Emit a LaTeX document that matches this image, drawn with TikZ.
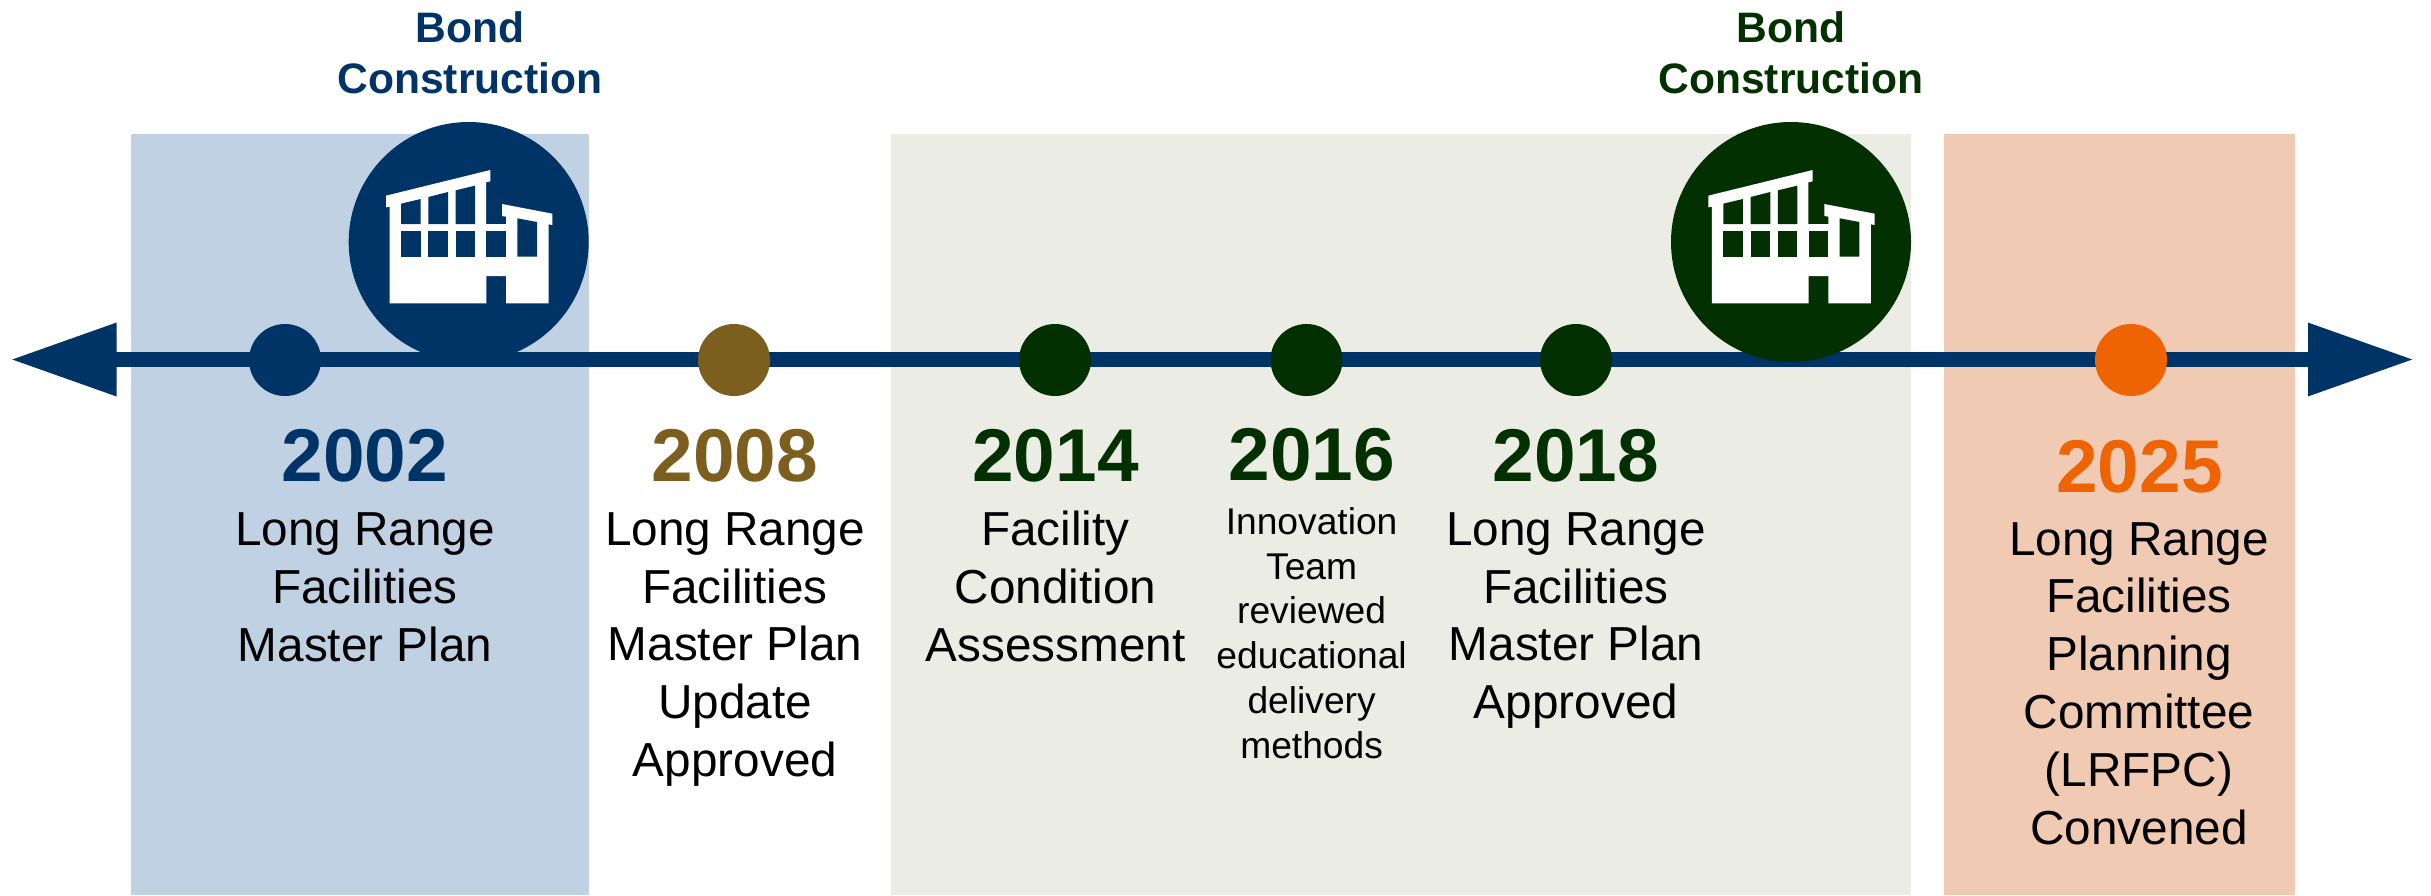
\documentclass[tikz,border=0pt]{standalone}
\usepackage{fontspec}
\setmainfont{Liberation Sans}
\usetikzlibrary{arrows.meta}
\definecolor{navy}{HTML}{003366}
\definecolor{paleblue}{HTML}{BFD1E3}
\definecolor{forest}{HTML}{033000}
\definecolor{palegreen}{HTML}{EBECE4}
\definecolor{paleorange}{HTML}{F0CAB3}
\definecolor{brightorange}{HTML}{EE6402}
\definecolor{bronze}{HTML}{7C5F1F}
\tikzset{
  band/.style={inner sep=0pt, outer sep=0pt, anchor=north west},
  dot/.style={circle, inner sep=0pt, outer sep=0pt, minimum size=36pt, fill=#1},
  bigdot/.style={circle, inner sep=0pt, outer sep=0pt, minimum size=120pt, fill=#1},
  yearlabel/.style={anchor=base, inner sep=0pt, text=#1, font=\fontsize{37.4}{41}\selectfont\bfseries},
  bodylabel/.style={anchor=base, inner sep=0pt, align=center, text=black, font=\fontsize{23.85}{28.9}\selectfont},
  smalllabel/.style={anchor=base, inner sep=0pt, align=center, text=black, font=\fontsize{18.6}{22.35}\selectfont},
  bondlabel/.style={anchor=base, inner sep=0pt, align=center, text=#1, font=\fontsize{21.3}{25.5}\selectfont\bfseries},
  timeline/.style={line width=7.8pt, draw=navy, {Triangle[length=53pt,width=34.6pt]}-{Triangle[length=53pt,width=34.6pt]}},
}
\newcommand{\drawbuilding}[3]{%
\begin{scope}[shift={(#1,#2)},scale=1/3]
  \fill[white] (168,287) -- (481,210) -- (481,244) -- (468,247) -- (468,372) -- (528,372) -- (528,350) -- (516,348) -- (516,312) -- (667,341) -- (667,375) -- (656,373) -- (656,610) -- (528,610) -- (528,528) -- (469,528) -- (469,610) -- (179,610) -- (179,320) -- (168,322) -- cycle;
  \fill[#3] (213,311) -- (272,297) -- (272,372) -- (213,372) -- cycle;
  \fill[#3] (295,291) -- (354,276) -- (354,372) -- (295,372) -- cycle;
  \fill[#3] (377,271) -- (435,257) -- (435,372) -- (377,372) -- cycle;
  \fill[#3] (213,394) rectangle (272,470);
  \fill[#3] (295,394) rectangle (354,470);
  \fill[#3] (377,394) rectangle (435,470);
  \fill[#3] (469,394) rectangle (528,470);
  \fill[#3] (562,355) -- (621,366) -- (621,470) -- (562,470) -- cycle;
\end{scope}}
\begin{document}
\begin{tikzpicture}[x=0.5pt,y=-0.5pt]
\useasboundingbox (0,0) rectangle (2431,895);
% bands
\fill[paleblue] (130.5,134) rectangle (588.7,895);
\fill[palegreen] (891,134) rectangle (1910.5,895);
\fill[paleorange] (1944,134) rectangle (2295,895);
% timeline
\coordinate (tipL) at (10.5,359.5);
\coordinate (tipR) at (2414,359.5);
\draw[timeline] (tipL) -- (tipR);
% dots
\node[dot=navy] (d02) at (285,360) {};
\node[dot=bronze] (d08) at (734,360) {};
\node[dot=forest] (d14) at (1055,360) {};
\node[dot=forest] (d16) at (1306.5,360) {};
\node[dot=forest] (d18) at (1576,360) {};
\node[dot=brightorange] (d25) at (2131,360) {};
% bond circles
\node[bigdot=navy] (b1) at (468.7,242) {};
\node[bigdot=forest] (b2) at (1791,242) {};
\drawbuilding{330}{100}{navy}
\drawbuilding{1652.3}{100}{forest}
% bond labels
\node[bondlabel=navy] (bl1) at (470,93) {Bond\\Construction};
\node[bondlabel=forest] (bl2) at (1791,93) {Bond\\Construction};
% years
\node[yearlabel=navy] (y02) at (365,481) {2002};
\node[yearlabel=bronze] (y08) at (735,481) {2008};
\node[yearlabel=forest] (y14) at (1055.5,481) {2014};
\node[yearlabel=forest] (y16) at (1311.6,480) {2016};
\node[yearlabel=forest] (y18) at (1576,481) {2018};
\node[yearlabel=brightorange] (y25) at (2139.5,492) {2025};
% descriptions
\node[bodylabel] (t02) at (365,661) {Long Range\\Facilities\\Master Plan};
\node[bodylabel] (t08) at (735,776.5) {Long Range\\Facilities\\Master Plan\\Update\\Approved};
\node[bodylabel] (t14) at (1055.5,661) {Facility\\Condition\\Assessment};
\node[smalllabel] (t16) at (1311.6,758) {Innovation\\Team\\reviewed\\educational\\delivery\\methods};
\node[bodylabel] (t18) at (1576,718.7) {Long Range\\Facilities\\Master Plan\\Approved};
\node[bodylabel] (t25) at (2139,844) {Long Range\\Facilities\\Planning\\Committee\\(LRFPC)\\Convened};
\end{tikzpicture}
\end{document}
